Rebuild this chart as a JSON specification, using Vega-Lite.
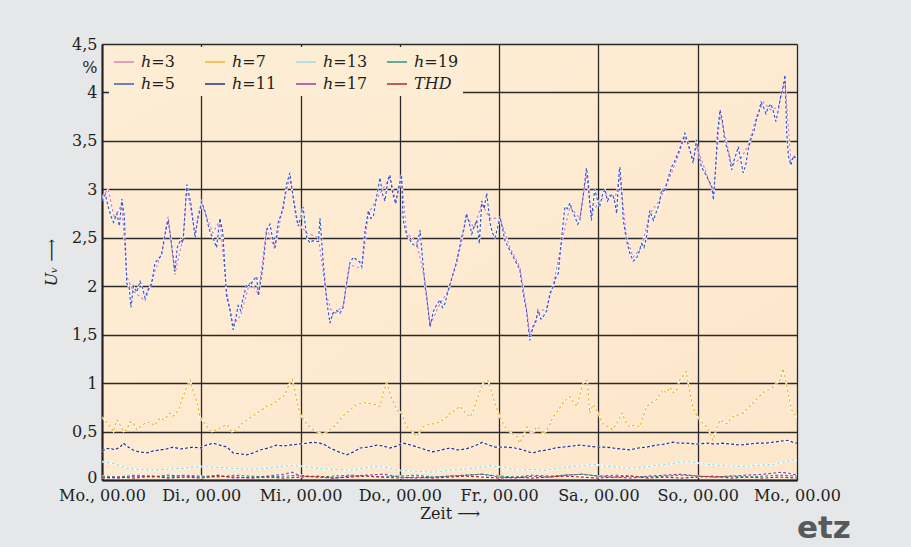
{
"$schema": "https://vega.github.io/schema/vega-lite/v6.json",
"autosize": {"type": "none"},
"padding": {"left": 102, "top": 44, "right": 114, "bottom": 67},
"width": 695,
"height": 436,
"background": "#e6e7e9",
"title": {"text": "etz", "orient": "bottom", "anchor": "end", "align": "left", "frame": "group", "font": "DejaVu Sans", "fontWeight": "bold", "fontSize": 31, "color": "#58595b", "offset": -7},
"config": {
  "view": {"fill": {"gradient": "linear", "x1": 0, "y1": 0, "x2": 1, "y2": 1, "stops": [{"offset": 0, "color": "#fdedd6"}, {"offset": 1, "color": "#fde7cb"}]}, "stroke": null},
  "axis": {"labelFont": "DejaVu Serif", "labelFontSize": 16, "labelColor": "#231f20", "titleFont": "DejaVu Serif", "titleFontSize": 16, "titleFontWeight": "normal", "titleColor": "#231f20", "ticks": false, "tickSize": 0, "gridColor": "#2a2a2a", "gridWidth": 1.3, "gridOpacity": 1, "domainColor": "#231f20", "domainWidth": 2}
},
"data": {"values": [
{"s":"ℎ=3","t":0,"v":2.92},{"s":"ℎ=3","t":1.5,"v":3.0},{"s":"ℎ=3","t":3,"v":2.7},{"s":"ℎ=3","t":4.8,"v":2.85},{"s":"ℎ=3","t":6,"v":2.1},{"s":"ℎ=3","t":7.5,"v":1.95},{"s":"ℎ=3","t":10.4,"v":1.85},{"s":"ℎ=3","t":12,"v":2.05},{"s":"ℎ=3","t":14.4,"v":2.35},{"s":"ℎ=3","t":16,"v":2.72},{"s":"ℎ=3","t":17.6,"v":2.12},{"s":"ℎ=3","t":19.6,"v":2.5},{"s":"ℎ=3","t":20.5,"v":3.02},{"s":"ℎ=3","t":22.5,"v":2.55},{"s":"ℎ=3","t":24.1,"v":2.85},{"s":"ℎ=3","t":26.8,"v":2.55},{"s":"ℎ=3","t":28.5,"v":2.68},{"s":"ℎ=3","t":30.1,"v":1.95},{"s":"ℎ=3","t":31.7,"v":1.6},{"s":"ℎ=3","t":33.5,"v":1.7},{"s":"ℎ=3","t":35.8,"v":2.05},{"s":"ℎ=3","t":37.8,"v":1.92},{"s":"ℎ=3","t":39.8,"v":2.6},{"s":"ℎ=3","t":41.8,"v":2.38},{"s":"ℎ=3","t":43.8,"v":2.85},{"s":"ℎ=3","t":45.4,"v":3.12},{"s":"ℎ=3","t":47.4,"v":2.65},{"s":"ℎ=3","t":49.5,"v":2.55},{"s":"ℎ=3","t":52.3,"v":2.5},{"s":"ℎ=3","t":54.3,"v":1.9},{"s":"ℎ=3","t":55.8,"v":1.7},{"s":"ℎ=3","t":58.3,"v":1.8},{"s":"ℎ=3","t":59.9,"v":2.22},{"s":"ℎ=3","t":62.8,"v":2.18},{"s":"ℎ=3","t":64.4,"v":2.75},{"s":"ℎ=3","t":66.4,"v":2.9},{"s":"ℎ=3","t":67.8,"v":3.0},{"s":"ℎ=3","t":69.6,"v":3.12},{"s":"ℎ=3","t":71,"v":2.88},{"s":"ℎ=3","t":72.4,"v":3.1},{"s":"ℎ=3","t":73.7,"v":2.55},{"s":"ℎ=3","t":76.1,"v":2.45},{"s":"ℎ=3","t":78.1,"v":2.05},{"s":"ℎ=3","t":79.3,"v":1.6},{"s":"ℎ=3","t":81.7,"v":1.82},{"s":"ℎ=3","t":83.7,"v":1.95},{"s":"ℎ=3","t":86.9,"v":2.45},{"s":"ℎ=3","t":88.1,"v":2.72},{"s":"ℎ=3","t":90,"v":2.6},{"s":"ℎ=3","t":91.8,"v":2.85},{"s":"ℎ=3","t":93.8,"v":2.7},{"s":"ℎ=3","t":96.2,"v":2.7},{"s":"ℎ=3","t":98.6,"v":2.4},{"s":"ℎ=3","t":101,"v":2.2},{"s":"ℎ=3","t":102.6,"v":1.78},{"s":"ℎ=3","t":103.4,"v":1.5},{"s":"ℎ=3","t":105.4,"v":1.72},{"s":"ℎ=3","t":107.5,"v":1.78},{"s":"ℎ=3","t":109.1,"v":2.02},{"s":"ℎ=3","t":111.1,"v":2.45},{"s":"ℎ=3","t":113.1,"v":2.82},{"s":"ℎ=3","t":115.5,"v":2.7},{"s":"ℎ=3","t":117.1,"v":3.15},{"s":"ℎ=3","t":118.3,"v":2.75},{"s":"ℎ=3","t":120.3,"v":2.88},{"s":"ℎ=3","t":122.2,"v":2.95},{"s":"ℎ=3","t":124,"v":2.9},{"s":"ℎ=3","t":125.2,"v":3.15},{"s":"ℎ=3","t":126.8,"v":2.5},{"s":"ℎ=3","t":128.4,"v":2.3},{"s":"ℎ=3","t":130.4,"v":2.4},{"s":"ℎ=3","t":132.4,"v":2.75},{"s":"ℎ=3","t":134.7,"v":2.88},{"s":"ℎ=3","t":136.5,"v":3.05},{"s":"ℎ=3","t":138.9,"v":3.3},{"s":"ℎ=3","t":140.9,"v":3.55},{"s":"ℎ=3","t":142.9,"v":3.3},{"s":"ℎ=3","t":143.7,"v":3.45},{"s":"ℎ=3","t":146.2,"v":3.15},{"s":"ℎ=3","t":147.8,"v":2.95},{"s":"ℎ=3","t":149.4,"v":3.78},{"s":"ℎ=3","t":151,"v":3.48},{"s":"ℎ=3","t":152.2,"v":3.25},{"s":"ℎ=3","t":154.4,"v":3.32},{"s":"ℎ=3","t":156.2,"v":3.45},{"s":"ℎ=3","t":158.2,"v":3.75},{"s":"ℎ=3","t":159.9,"v":3.9},{"s":"ℎ=3","t":161.7,"v":3.82},{"s":"ℎ=3","t":163.5,"v":3.85},{"s":"ℎ=3","t":165.1,"v":4.12},{"s":"ℎ=3","t":166.5,"v":3.3},{"s":"ℎ=3","t":168,"v":3.35},
{"s":"ℎ=5","t":0,"v":2.88},{"s":"ℎ=5","t":0.8,"v":2.95},{"s":"ℎ=5","t":1.5,"v":2.82},{"s":"ℎ=5","t":2.2,"v":2.72},{"s":"ℎ=5","t":2.8,"v":2.66},{"s":"ℎ=5","t":3.6,"v":2.75},{"s":"ℎ=5","t":4.2,"v":2.62},{"s":"ℎ=5","t":4.8,"v":2.9},{"s":"ℎ=5","t":5.4,"v":2.72},{"s":"ℎ=5","t":6,"v":2.03},{"s":"ℎ=5","t":6.6,"v":1.98},{"s":"ℎ=5","t":7,"v":1.78},{"s":"ℎ=5","t":7.6,"v":2.0},{"s":"ℎ=5","t":8.4,"v":1.94},{"s":"ℎ=5","t":9.2,"v":2.05},{"s":"ℎ=5","t":9.8,"v":1.98},{"s":"ℎ=5","t":10.4,"v":1.88},{"s":"ℎ=5","t":11.2,"v":1.97},{"s":"ℎ=5","t":12,"v":2.02},{"s":"ℎ=5","t":12.8,"v":2.24},{"s":"ℎ=5","t":13.6,"v":2.28},{"s":"ℎ=5","t":14.4,"v":2.32},{"s":"ℎ=5","t":15,"v":2.47},{"s":"ℎ=5","t":15.6,"v":2.62},{"s":"ℎ=5","t":16,"v":2.68},{"s":"ℎ=5","t":16.6,"v":2.5},{"s":"ℎ=5","t":17.2,"v":2.3},{"s":"ℎ=5","t":17.6,"v":2.15},{"s":"ℎ=5","t":18.2,"v":2.4},{"s":"ℎ=5","t":19,"v":2.48},{"s":"ℎ=5","t":19.6,"v":2.45},{"s":"ℎ=5","t":20.5,"v":3.05},{"s":"ℎ=5","t":21,"v":2.95},{"s":"ℎ=5","t":21.5,"v":2.85},{"s":"ℎ=5","t":22.5,"v":2.5},{"s":"ℎ=5","t":23.2,"v":2.72},{"s":"ℎ=5","t":24.1,"v":2.87},{"s":"ℎ=5","t":25,"v":2.76},{"s":"ℎ=5","t":25.6,"v":2.64},{"s":"ℎ=5","t":26.2,"v":2.55},{"s":"ℎ=5","t":26.8,"v":2.5},{"s":"ℎ=5","t":27.7,"v":2.4},{"s":"ℎ=5","t":28.5,"v":2.7},{"s":"ℎ=5","t":29.2,"v":2.56},{"s":"ℎ=5","t":30.1,"v":1.9},{"s":"ℎ=5","t":31,"v":1.74},{"s":"ℎ=5","t":31.7,"v":1.55},{"s":"ℎ=5","t":32.4,"v":1.68},{"s":"ℎ=5","t":32.9,"v":1.8},{"s":"ℎ=5","t":33.5,"v":1.75},{"s":"ℎ=5","t":34,"v":1.86},{"s":"ℎ=5","t":35,"v":2.02},{"s":"ℎ=5","t":35.8,"v":2.0},{"s":"ℎ=5","t":36.5,"v":2.06},{"s":"ℎ=5","t":37.4,"v":2.1},{"s":"ℎ=5","t":37.8,"v":1.9},{"s":"ℎ=5","t":38.9,"v":2.2},{"s":"ℎ=5","t":39.8,"v":2.58},{"s":"ℎ=5","t":40.6,"v":2.64},{"s":"ℎ=5","t":41.2,"v":2.5},{"s":"ℎ=5","t":41.8,"v":2.4},{"s":"ℎ=5","t":42.6,"v":2.66},{"s":"ℎ=5","t":43.8,"v":2.8},{"s":"ℎ=5","t":44.6,"v":3.05},{"s":"ℎ=5","t":45.4,"v":3.17},{"s":"ℎ=5","t":46.2,"v":2.92},{"s":"ℎ=5","t":46.8,"v":2.75},{"s":"ℎ=5","t":47.4,"v":2.62},{"s":"ℎ=5","t":48,"v":2.7},{"s":"ℎ=5","t":48.6,"v":2.82},{"s":"ℎ=5","t":49.5,"v":2.5},{"s":"ℎ=5","t":50.2,"v":2.45},{"s":"ℎ=5","t":51,"v":2.47},{"s":"ℎ=5","t":52.3,"v":2.46},{"s":"ℎ=5","t":52.7,"v":2.7},{"s":"ℎ=5","t":53.5,"v":2.24},{"s":"ℎ=5","t":54.3,"v":1.85},{"s":"ℎ=5","t":55.1,"v":1.62},{"s":"ℎ=5","t":55.8,"v":1.72},{"s":"ℎ=5","t":56.7,"v":1.75},{"s":"ℎ=5","t":57.5,"v":1.72},{"s":"ℎ=5","t":58.3,"v":1.78},{"s":"ℎ=5","t":59.1,"v":2.03},{"s":"ℎ=5","t":59.9,"v":2.24},{"s":"ℎ=5","t":60.8,"v":2.3},{"s":"ℎ=5","t":61.6,"v":2.27},{"s":"ℎ=5","t":62.3,"v":2.25},{"s":"ℎ=5","t":62.8,"v":2.2},{"s":"ℎ=5","t":63.6,"v":2.58},{"s":"ℎ=5","t":64.4,"v":2.78},{"s":"ℎ=5","t":65,"v":2.7},{"s":"ℎ=5","t":65.6,"v":2.72},{"s":"ℎ=5","t":66.4,"v":2.93},{"s":"ℎ=5","t":67.2,"v":3.12},{"s":"ℎ=5","t":67.8,"v":2.95},{"s":"ℎ=5","t":68.4,"v":2.88},{"s":"ℎ=5","t":69.1,"v":3.1},{"s":"ℎ=5","t":69.6,"v":3.15},{"s":"ℎ=5","t":70.3,"v":2.95},{"s":"ℎ=5","t":71,"v":2.85},{"s":"ℎ=5","t":71.6,"v":3.0},{"s":"ℎ=5","t":72.4,"v":3.15},{"s":"ℎ=5","t":72.8,"v":2.68},{"s":"ℎ=5","t":73.7,"v":2.52},{"s":"ℎ=5","t":74.4,"v":2.48},{"s":"ℎ=5","t":75.2,"v":2.43},{"s":"ℎ=5","t":76.1,"v":2.41},{"s":"ℎ=5","t":76.9,"v":2.58},{"s":"ℎ=5","t":77.3,"v":2.37},{"s":"ℎ=5","t":78.1,"v":2.0},{"s":"ℎ=5","t":78.5,"v":1.88},{"s":"ℎ=5","t":79.3,"v":1.58},{"s":"ℎ=5","t":80.1,"v":1.74},{"s":"ℎ=5","t":80.8,"v":1.8},{"s":"ℎ=5","t":81.7,"v":1.86},{"s":"ℎ=5","t":82.3,"v":1.78},{"s":"ℎ=5","t":82.9,"v":1.82},{"s":"ℎ=5","t":83.7,"v":1.96},{"s":"ℎ=5","t":84.9,"v":2.13},{"s":"ℎ=5","t":85.7,"v":2.24},{"s":"ℎ=5","t":86.9,"v":2.5},{"s":"ℎ=5","t":87.5,"v":2.6},{"s":"ℎ=5","t":88.1,"v":2.75},{"s":"ℎ=5","t":88.8,"v":2.65},{"s":"ℎ=5","t":89.4,"v":2.54},{"s":"ℎ=5","t":90,"v":2.62},{"s":"ℎ=5","t":90.6,"v":2.68},{"s":"ℎ=5","t":91.2,"v":2.44},{"s":"ℎ=5","t":91.8,"v":2.88},{"s":"ℎ=5","t":92.4,"v":2.8},{"s":"ℎ=5","t":93,"v":2.96},{"s":"ℎ=5","t":93.8,"v":2.65},{"s":"ℎ=5","t":94.4,"v":2.55},{"s":"ℎ=5","t":95,"v":2.5},{"s":"ℎ=5","t":95.6,"v":2.6},{"s":"ℎ=5","t":96.2,"v":2.72},{"s":"ℎ=5","t":96.8,"v":2.6},{"s":"ℎ=5","t":97.4,"v":2.47},{"s":"ℎ=5","t":98.6,"v":2.37},{"s":"ℎ=5","t":99.8,"v":2.27},{"s":"ℎ=5","t":101,"v":2.17},{"s":"ℎ=5","t":101.8,"v":1.93},{"s":"ℎ=5","t":102.6,"v":1.75},{"s":"ℎ=5","t":103.4,"v":1.44},{"s":"ℎ=5","t":104.2,"v":1.58},{"s":"ℎ=5","t":104.8,"v":1.62},{"s":"ℎ=5","t":105.4,"v":1.75},{"s":"ℎ=5","t":106.1,"v":1.66},{"s":"ℎ=5","t":106.7,"v":1.69},{"s":"ℎ=5","t":107.5,"v":1.75},{"s":"ℎ=5","t":108.3,"v":1.93},{"s":"ℎ=5","t":109.1,"v":2.0},{"s":"ℎ=5","t":109.8,"v":2.1},{"s":"ℎ=5","t":110.3,"v":2.13},{"s":"ℎ=5","t":111.1,"v":2.5},{"s":"ℎ=5","t":111.9,"v":2.82},{"s":"ℎ=5","t":112.5,"v":2.8},{"s":"ℎ=5","t":113.1,"v":2.86},{"s":"ℎ=5","t":113.7,"v":2.78},{"s":"ℎ=5","t":114.3,"v":2.72},{"s":"ℎ=5","t":115,"v":2.64},{"s":"ℎ=5","t":115.5,"v":2.68},{"s":"ℎ=5","t":116.3,"v":2.93},{"s":"ℎ=5","t":117.1,"v":3.22},{"s":"ℎ=5","t":117.5,"v":3.1},{"s":"ℎ=5","t":117.9,"v":2.86},{"s":"ℎ=5","t":118.3,"v":2.68},{"s":"ℎ=5","t":119.1,"v":3.0},{"s":"ℎ=5","t":119.7,"v":2.9},{"s":"ℎ=5","t":120.3,"v":2.82},{"s":"ℎ=5","t":121,"v":2.95},{"s":"ℎ=5","t":121.6,"v":3.0},{"s":"ℎ=5","t":122.2,"v":2.88},{"s":"ℎ=5","t":122.8,"v":2.93},{"s":"ℎ=5","t":123.4,"v":2.95},{"s":"ℎ=5","t":124,"v":2.86},{"s":"ℎ=5","t":124.4,"v":2.75},{"s":"ℎ=5","t":125,"v":3.18},{"s":"ℎ=5","t":125.2,"v":3.23},{"s":"ℎ=5","t":125.6,"v":3.0},{"s":"ℎ=5","t":126,"v":2.68},{"s":"ℎ=5","t":126.8,"v":2.47},{"s":"ℎ=5","t":127.6,"v":2.34},{"s":"ℎ=5","t":128.4,"v":2.26},{"s":"ℎ=5","t":129.2,"v":2.29},{"s":"ℎ=5","t":129.8,"v":2.35},{"s":"ℎ=5","t":130.4,"v":2.44},{"s":"ℎ=5","t":131,"v":2.4},{"s":"ℎ=5","t":131.6,"v":2.5},{"s":"ℎ=5","t":132.4,"v":2.78},{"s":"ℎ=5","t":133.3,"v":2.68},{"s":"ℎ=5","t":134.1,"v":2.78},{"s":"ℎ=5","t":134.7,"v":2.85},{"s":"ℎ=5","t":135.3,"v":3.0},{"s":"ℎ=5","t":135.9,"v":2.97},{"s":"ℎ=5","t":136.5,"v":3.06},{"s":"ℎ=5","t":137.1,"v":3.15},{"s":"ℎ=5","t":137.7,"v":3.23},{"s":"ℎ=5","t":138.3,"v":3.28},{"s":"ℎ=5","t":138.9,"v":3.34},{"s":"ℎ=5","t":139.5,"v":3.4},{"s":"ℎ=5","t":140.1,"v":3.47},{"s":"ℎ=5","t":140.9,"v":3.58},{"s":"ℎ=5","t":141.5,"v":3.5},{"s":"ℎ=5","t":142.1,"v":3.41},{"s":"ℎ=5","t":142.9,"v":3.27},{"s":"ℎ=5","t":143.7,"v":3.51},{"s":"ℎ=5","t":144.3,"v":3.35},{"s":"ℎ=5","t":144.9,"v":3.23},{"s":"ℎ=5","t":145.6,"v":3.18},{"s":"ℎ=5","t":146.2,"v":3.13},{"s":"ℎ=5","t":146.8,"v":3.08},{"s":"ℎ=5","t":147.4,"v":3.03},{"s":"ℎ=5","t":147.8,"v":2.89},{"s":"ℎ=5","t":148.3,"v":3.2},{"s":"ℎ=5","t":148.8,"v":3.6},{"s":"ℎ=5","t":149.4,"v":3.82},{"s":"ℎ=5","t":150,"v":3.7},{"s":"ℎ=5","t":150.5,"v":3.5},{"s":"ℎ=5","t":151,"v":3.44},{"s":"ℎ=5","t":151.6,"v":3.35},{"s":"ℎ=5","t":152.2,"v":3.2},{"s":"ℎ=5","t":152.8,"v":3.3},{"s":"ℎ=5","t":153.4,"v":3.38},{"s":"ℎ=5","t":153.8,"v":3.44},{"s":"ℎ=5","t":154.4,"v":3.3},{"s":"ℎ=5","t":155,"v":3.17},{"s":"ℎ=5","t":155.6,"v":3.25},{"s":"ℎ=5","t":156.2,"v":3.41},{"s":"ℎ=5","t":157,"v":3.54},{"s":"ℎ=5","t":157.6,"v":3.6},{"s":"ℎ=5","t":158.2,"v":3.72},{"s":"ℎ=5","t":158.8,"v":3.8},{"s":"ℎ=5","t":159.3,"v":3.9},{"s":"ℎ=5","t":159.9,"v":3.85},{"s":"ℎ=5","t":160.5,"v":3.78},{"s":"ℎ=5","t":161.1,"v":3.85},{"s":"ℎ=5","t":161.7,"v":3.88},{"s":"ℎ=5","t":162.3,"v":3.8},{"s":"ℎ=5","t":162.9,"v":3.7},{"s":"ℎ=5","t":163.5,"v":3.82},{"s":"ℎ=5","t":164,"v":3.95},{"s":"ℎ=5","t":164.6,"v":4.05},{"s":"ℎ=5","t":165.1,"v":4.18},{"s":"ℎ=5","t":165.5,"v":3.6},{"s":"ℎ=5","t":165.9,"v":3.35},{"s":"ℎ=5","t":166.5,"v":3.25},{"s":"ℎ=5","t":167.2,"v":3.35},{"s":"ℎ=5","t":168,"v":3.3},
{"s":"ℎ=7","t":0,"v":0.65},{"s":"ℎ=7","t":1,"v":0.6},{"s":"ℎ=7","t":2,"v":0.55},{"s":"ℎ=7","t":2.8,"v":0.5},{"s":"ℎ=7","t":3.6,"v":0.62},{"s":"ℎ=7","t":4.5,"v":0.56},{"s":"ℎ=7","t":5.2,"v":0.5},{"s":"ℎ=7","t":6,"v":0.52},{"s":"ℎ=7","t":6.8,"v":0.6},{"s":"ℎ=7","t":7.5,"v":0.59},{"s":"ℎ=7","t":8.4,"v":0.52},{"s":"ℎ=7","t":9.2,"v":0.55},{"s":"ℎ=7","t":10.2,"v":0.58},{"s":"ℎ=7","t":11.6,"v":0.6},{"s":"ℎ=7","t":12.6,"v":0.56},{"s":"ℎ=7","t":14,"v":0.64},{"s":"ℎ=7","t":15,"v":0.62},{"s":"ℎ=7","t":16.4,"v":0.69},{"s":"ℎ=7","t":17.2,"v":0.66},{"s":"ℎ=7","t":18.1,"v":0.7},{"s":"ℎ=7","t":18.8,"v":0.75},{"s":"ℎ=7","t":19.3,"v":0.83},{"s":"ℎ=7","t":20,"v":0.9},{"s":"ℎ=7","t":20.5,"v":0.96},{"s":"ℎ=7","t":21.3,"v":1.03},{"s":"ℎ=7","t":21.8,"v":0.95},{"s":"ℎ=7","t":22.5,"v":0.86},{"s":"ℎ=7","t":23.1,"v":0.78},{"s":"ℎ=7","t":23.7,"v":0.65},{"s":"ℎ=7","t":24.5,"v":0.6},{"s":"ℎ=7","t":25.4,"v":0.55},{"s":"ℎ=7","t":26.5,"v":0.5},{"s":"ℎ=7","t":27.8,"v":0.52},{"s":"ℎ=7","t":29,"v":0.55},{"s":"ℎ=7","t":30.2,"v":0.57},{"s":"ℎ=7","t":31.4,"v":0.5},{"s":"ℎ=7","t":32.6,"v":0.52},{"s":"ℎ=7","t":33.8,"v":0.58},{"s":"ℎ=7","t":35,"v":0.62},{"s":"ℎ=7","t":36.2,"v":0.65},{"s":"ℎ=7","t":37.4,"v":0.69},{"s":"ℎ=7","t":38.6,"v":0.72},{"s":"ℎ=7","t":39.8,"v":0.76},{"s":"ℎ=7","t":41,"v":0.78},{"s":"ℎ=7","t":42.2,"v":0.81},{"s":"ℎ=7","t":43,"v":0.84},{"s":"ℎ=7","t":43.8,"v":0.86},{"s":"ℎ=7","t":44.6,"v":0.92},{"s":"ℎ=7","t":45.4,"v":1.0},{"s":"ℎ=7","t":46,"v":1.04},{"s":"ℎ=7","t":46.6,"v":0.93},{"s":"ℎ=7","t":47.2,"v":0.8},{"s":"ℎ=7","t":47.8,"v":0.69},{"s":"ℎ=7","t":48.6,"v":0.63},{"s":"ℎ=7","t":49.5,"v":0.58},{"s":"ℎ=7","t":50.7,"v":0.53},{"s":"ℎ=7","t":51.9,"v":0.5},{"s":"ℎ=7","t":53.5,"v":0.47},{"s":"ℎ=7","t":55.1,"v":0.52},{"s":"ℎ=7","t":56.3,"v":0.56},{"s":"ℎ=7","t":57.5,"v":0.62},{"s":"ℎ=7","t":58.7,"v":0.68},{"s":"ℎ=7","t":59.9,"v":0.72},{"s":"ℎ=7","t":61.2,"v":0.77},{"s":"ℎ=7","t":62.4,"v":0.79},{"s":"ℎ=7","t":63.6,"v":0.8},{"s":"ℎ=7","t":64.8,"v":0.79},{"s":"ℎ=7","t":66,"v":0.78},{"s":"ℎ=7","t":67.2,"v":0.76},{"s":"ℎ=7","t":68,"v":0.9},{"s":"ℎ=7","t":68.8,"v":1.0},{"s":"ℎ=7","t":69.4,"v":0.93},{"s":"ℎ=7","t":70.1,"v":0.83},{"s":"ℎ=7","t":71.3,"v":0.72},{"s":"ℎ=7","t":72.5,"v":0.69},{"s":"ℎ=7","t":73.1,"v":0.6},{"s":"ℎ=7","t":73.7,"v":0.55},{"s":"ℎ=7","t":74.9,"v":0.5},{"s":"ℎ=7","t":76.1,"v":0.45},{"s":"ℎ=7","t":76.9,"v":0.5},{"s":"ℎ=7","t":77.6,"v":0.55},{"s":"ℎ=7","t":78.8,"v":0.57},{"s":"ℎ=7","t":80,"v":0.58},{"s":"ℎ=7","t":81.7,"v":0.6},{"s":"ℎ=7","t":83.4,"v":0.65},{"s":"ℎ=7","t":84.1,"v":0.69},{"s":"ℎ=7","t":85.3,"v":0.72},{"s":"ℎ=7","t":86.5,"v":0.76},{"s":"ℎ=7","t":87.7,"v":0.7},{"s":"ℎ=7","t":89,"v":0.65},{"s":"ℎ=7","t":89.8,"v":0.72},{"s":"ℎ=7","t":90.6,"v":0.83},{"s":"ℎ=7","t":91.4,"v":0.92},{"s":"ℎ=7","t":92.1,"v":1.0},{"s":"ℎ=7","t":93.3,"v":1.03},{"s":"ℎ=7","t":93.9,"v":0.95},{"s":"ℎ=7","t":94.5,"v":0.86},{"s":"ℎ=7","t":95.3,"v":0.75},{"s":"ℎ=7","t":96.2,"v":0.65},{"s":"ℎ=7","t":97,"v":0.58},{"s":"ℎ=7","t":97.9,"v":0.52},{"s":"ℎ=7","t":99.1,"v":0.48},{"s":"ℎ=7","t":100.3,"v":0.45},{"s":"ℎ=7","t":101,"v":0.38},{"s":"ℎ=7","t":101.8,"v":0.45},{"s":"ℎ=7","t":102.7,"v":0.55},{"s":"ℎ=7","t":103.4,"v":0.5},{"s":"ℎ=7","t":104.2,"v":0.48},{"s":"ℎ=7","t":105,"v":0.55},{"s":"ℎ=7","t":105.9,"v":0.53},{"s":"ℎ=7","t":106.8,"v":0.47},{"s":"ℎ=7","t":107.6,"v":0.52},{"s":"ℎ=7","t":108.3,"v":0.58},{"s":"ℎ=7","t":109,"v":0.65},{"s":"ℎ=7","t":110.2,"v":0.72},{"s":"ℎ=7","t":111.4,"v":0.79},{"s":"ℎ=7","t":112.2,"v":0.83},{"s":"ℎ=7","t":113.1,"v":0.86},{"s":"ℎ=7","t":114,"v":0.8},{"s":"ℎ=7","t":114.8,"v":0.76},{"s":"ℎ=7","t":115.5,"v":0.88},{"s":"ℎ=7","t":116.3,"v":1.0},{"s":"ℎ=7","t":117.3,"v":1.03},{"s":"ℎ=7","t":117.9,"v":0.69},{"s":"ℎ=7","t":118.7,"v":0.78},{"s":"ℎ=7","t":119.6,"v":0.72},{"s":"ℎ=7","t":120.4,"v":0.64},{"s":"ℎ=7","t":121.1,"v":0.58},{"s":"ℎ=7","t":122.3,"v":0.55},{"s":"ℎ=7","t":123.5,"v":0.52},{"s":"ℎ=7","t":124.6,"v":0.6},{"s":"ℎ=7","t":125.7,"v":0.69},{"s":"ℎ=7","t":126.6,"v":0.6},{"s":"ℎ=7","t":127.6,"v":0.55},{"s":"ℎ=7","t":128.8,"v":0.57},{"s":"ℎ=7","t":130,"v":0.55},{"s":"ℎ=7","t":130.8,"v":0.65},{"s":"ℎ=7","t":131.7,"v":0.76},{"s":"ℎ=7","t":132.9,"v":0.8},{"s":"ℎ=7","t":134.1,"v":0.83},{"s":"ℎ=7","t":135.6,"v":0.93},{"s":"ℎ=7","t":136.5,"v":0.9},{"s":"ℎ=7","t":137.3,"v":0.96},{"s":"ℎ=7","t":138.1,"v":0.9},{"s":"ℎ=7","t":138.9,"v":0.93},{"s":"ℎ=7","t":139.6,"v":1.03},{"s":"ℎ=7","t":140.5,"v":1.08},{"s":"ℎ=7","t":141.2,"v":1.12},{"s":"ℎ=7","t":141.9,"v":0.95},{"s":"ℎ=7","t":142.8,"v":0.76},{"s":"ℎ=7","t":143.6,"v":0.68},{"s":"ℎ=7","t":144.5,"v":0.62},{"s":"ℎ=7","t":145.3,"v":0.58},{"s":"ℎ=7","t":146.2,"v":0.55},{"s":"ℎ=7","t":147,"v":0.48},{"s":"ℎ=7","t":147.7,"v":0.41},{"s":"ℎ=7","t":148.5,"v":0.52},{"s":"ℎ=7","t":149.4,"v":0.62},{"s":"ℎ=7","t":150.2,"v":0.6},{"s":"ℎ=7","t":151.1,"v":0.58},{"s":"ℎ=7","t":151.8,"v":0.62},{"s":"ℎ=7","t":152.5,"v":0.65},{"s":"ℎ=7","t":153.7,"v":0.67},{"s":"ℎ=7","t":154.9,"v":0.69},{"s":"ℎ=7","t":156.1,"v":0.74},{"s":"ℎ=7","t":157.3,"v":0.79},{"s":"ℎ=7","t":158.5,"v":0.85},{"s":"ℎ=7","t":159.8,"v":0.9},{"s":"ℎ=7","t":161,"v":0.93},{"s":"ℎ=7","t":162.2,"v":0.96},{"s":"ℎ=7","t":163.1,"v":1.0},{"s":"ℎ=7","t":163.9,"v":1.03},{"s":"ℎ=7","t":164.6,"v":1.15},{"s":"ℎ=7","t":165.2,"v":1.05},{"s":"ℎ=7","t":165.8,"v":0.9},{"s":"ℎ=7","t":166.4,"v":0.78},{"s":"ℎ=7","t":167,"v":0.69},{"s":"ℎ=7","t":168,"v":0.65},
{"s":"ℎ=11","t":0,"v":0.3},{"s":"ℎ=11","t":1,"v":0.32},{"s":"ℎ=11","t":2,"v":0.33},{"s":"ℎ=11","t":3,"v":0.31},{"s":"ℎ=11","t":4.4,"v":0.34},{"s":"ℎ=11","t":5.2,"v":0.38},{"s":"ℎ=11","t":6,"v":0.35},{"s":"ℎ=11","t":7.5,"v":0.31},{"s":"ℎ=11","t":9,"v":0.29},{"s":"ℎ=11","t":10.9,"v":0.28},{"s":"ℎ=11","t":12.4,"v":0.3},{"s":"ℎ=11","t":14,"v":0.31},{"s":"ℎ=11","t":15.6,"v":0.32},{"s":"ℎ=11","t":17.2,"v":0.34},{"s":"ℎ=11","t":18.9,"v":0.32},{"s":"ℎ=11","t":20.5,"v":0.33},{"s":"ℎ=11","t":22,"v":0.34},{"s":"ℎ=11","t":23.7,"v":0.33},{"s":"ℎ=11","t":25.2,"v":0.36},{"s":"ℎ=11","t":26.8,"v":0.38},{"s":"ℎ=11","t":28.5,"v":0.36},{"s":"ℎ=11","t":30.2,"v":0.34},{"s":"ℎ=11","t":31.7,"v":0.28},{"s":"ℎ=11","t":33.3,"v":0.27},{"s":"ℎ=11","t":35,"v":0.26},{"s":"ℎ=11","t":36.6,"v":0.28},{"s":"ℎ=11","t":38.2,"v":0.31},{"s":"ℎ=11","t":40.2,"v":0.33},{"s":"ℎ=11","t":42.2,"v":0.36},{"s":"ℎ=11","t":43.8,"v":0.35},{"s":"ℎ=11","t":45.4,"v":0.36},{"s":"ℎ=11","t":47.4,"v":0.37},{"s":"ℎ=11","t":49.5,"v":0.38},{"s":"ℎ=11","t":51.1,"v":0.39},{"s":"ℎ=11","t":52.7,"v":0.38},{"s":"ℎ=11","t":54,"v":0.36},{"s":"ℎ=11","t":55.1,"v":0.33},{"s":"ℎ=11","t":57.2,"v":0.29},{"s":"ℎ=11","t":59.2,"v":0.26},{"s":"ℎ=11","t":60.8,"v":0.29},{"s":"ℎ=11","t":62.4,"v":0.33},{"s":"ℎ=11","t":64.4,"v":0.34},{"s":"ℎ=11","t":66.4,"v":0.36},{"s":"ℎ=11","t":68,"v":0.35},{"s":"ℎ=11","t":69.6,"v":0.33},{"s":"ℎ=11","t":71.2,"v":0.35},{"s":"ℎ=11","t":72.8,"v":0.38},{"s":"ℎ=11","t":74.8,"v":0.36},{"s":"ℎ=11","t":76.9,"v":0.33},{"s":"ℎ=11","t":78.4,"v":0.31},{"s":"ℎ=11","t":80,"v":0.29},{"s":"ℎ=11","t":82,"v":0.31},{"s":"ℎ=11","t":84.1,"v":0.33},{"s":"ℎ=11","t":86,"v":0.31},{"s":"ℎ=11","t":88,"v":0.32},{"s":"ℎ=11","t":90,"v":0.35},{"s":"ℎ=11","t":92,"v":0.39},{"s":"ℎ=11","t":93.5,"v":0.36},{"s":"ℎ=11","t":95,"v":0.34},{"s":"ℎ=11","t":97.9,"v":0.34},{"s":"ℎ=11","t":99.8,"v":0.33},{"s":"ℎ=11","t":101.8,"v":0.31},{"s":"ℎ=11","t":103,"v":0.29},{"s":"ℎ=11","t":104.2,"v":0.28},{"s":"ℎ=11","t":105.9,"v":0.3},{"s":"ℎ=11","t":107.6,"v":0.31},{"s":"ℎ=11","t":109.5,"v":0.33},{"s":"ℎ=11","t":111.4,"v":0.34},{"s":"ℎ=11","t":113.5,"v":0.35},{"s":"ℎ=11","t":115.5,"v":0.36},{"s":"ℎ=11","t":117.6,"v":0.35},{"s":"ℎ=11","t":119.6,"v":0.34},{"s":"ℎ=11","t":121.6,"v":0.34},{"s":"ℎ=11","t":123.5,"v":0.33},{"s":"ℎ=11","t":125.5,"v":0.32},{"s":"ℎ=11","t":127.6,"v":0.31},{"s":"ℎ=11","t":129.6,"v":0.33},{"s":"ℎ=11","t":131.7,"v":0.34},{"s":"ℎ=11","t":134,"v":0.36},{"s":"ℎ=11","t":136,"v":0.37},{"s":"ℎ=11","t":138,"v":0.39},{"s":"ℎ=11","t":139.6,"v":0.38},{"s":"ℎ=11","t":141.3,"v":0.38},{"s":"ℎ=11","t":143.7,"v":0.37},{"s":"ℎ=11","t":146.2,"v":0.38},{"s":"ℎ=11","t":148.2,"v":0.37},{"s":"ℎ=11","t":150.1,"v":0.38},{"s":"ℎ=11","t":152.2,"v":0.37},{"s":"ℎ=11","t":154.2,"v":0.36},{"s":"ℎ=11","t":156.3,"v":0.37},{"s":"ℎ=11","t":158.3,"v":0.38},{"s":"ℎ=11","t":160.3,"v":0.38},{"s":"ℎ=11","t":162.2,"v":0.39},{"s":"ℎ=11","t":164,"v":0.4},{"s":"ℎ=11","t":165.6,"v":0.41},{"s":"ℎ=11","t":167,"v":0.39},{"s":"ℎ=11","t":168,"v":0.38},
{"s":"ℎ=13","t":0,"v":0.19},{"s":"ℎ=13","t":3,"v":0.17},{"s":"ℎ=13","t":6,"v":0.12},{"s":"ℎ=13","t":9,"v":0.11},{"s":"ℎ=13","t":11.6,"v":0.1},{"s":"ℎ=13","t":15,"v":0.11},{"s":"ℎ=13","t":18.9,"v":0.12},{"s":"ℎ=13","t":21.5,"v":0.13},{"s":"ℎ=13","t":23.7,"v":0.14},{"s":"ℎ=13","t":27.7,"v":0.13},{"s":"ℎ=13","t":31.7,"v":0.12},{"s":"ℎ=13","t":35.8,"v":0.11},{"s":"ℎ=13","t":40,"v":0.12},{"s":"ℎ=13","t":43,"v":0.14},{"s":"ℎ=13","t":45.4,"v":0.15},{"s":"ℎ=13","t":48.5,"v":0.14},{"s":"ℎ=13","t":52,"v":0.12},{"s":"ℎ=13","t":56,"v":0.11},{"s":"ℎ=13","t":60,"v":0.1},{"s":"ℎ=13","t":63,"v":0.12},{"s":"ℎ=13","t":66.4,"v":0.14},{"s":"ℎ=13","t":69,"v":0.13},{"s":"ℎ=13","t":72,"v":0.1},{"s":"ℎ=13","t":76,"v":0.09},{"s":"ℎ=13","t":80,"v":0.08},{"s":"ℎ=13","t":84,"v":0.1},{"s":"ℎ=13","t":87,"v":0.11},{"s":"ℎ=13","t":89.7,"v":0.12},{"s":"ℎ=13","t":93.8,"v":0.15},{"s":"ℎ=13","t":97,"v":0.13},{"s":"ℎ=13","t":100.3,"v":0.1},{"s":"ℎ=13","t":104,"v":0.11},{"s":"ℎ=13","t":107,"v":0.1},{"s":"ℎ=13","t":110,"v":0.12},{"s":"ℎ=13","t":114,"v":0.14},{"s":"ℎ=13","t":118.7,"v":0.16},{"s":"ℎ=13","t":122.5,"v":0.14},{"s":"ℎ=13","t":126.9,"v":0.12},{"s":"ℎ=13","t":130.5,"v":0.13},{"s":"ℎ=13","t":134.1,"v":0.15},{"s":"ℎ=13","t":138,"v":0.17},{"s":"ℎ=13","t":141.3,"v":0.19},{"s":"ℎ=13","t":143.5,"v":0.18},{"s":"ℎ=13","t":146.2,"v":0.16},{"s":"ℎ=13","t":150,"v":0.15},{"s":"ℎ=13","t":154.2,"v":0.14},{"s":"ℎ=13","t":158,"v":0.15},{"s":"ℎ=13","t":162.2,"v":0.16},{"s":"ℎ=13","t":165,"v":0.19},{"s":"ℎ=13","t":167,"v":0.21},{"s":"ℎ=13","t":168,"v":0.2},
{"s":"ℎ=17","t":0,"v":0.03},{"s":"ℎ=17","t":4,"v":0.02},{"s":"ℎ=17","t":8,"v":0.04},{"s":"ℎ=17","t":12,"v":0.03},{"s":"ℎ=17","t":16,"v":0.05},{"s":"ℎ=17","t":20,"v":0.04},{"s":"ℎ=17","t":24,"v":0.03},{"s":"ℎ=17","t":28,"v":0.05},{"s":"ℎ=17","t":32,"v":0.02},{"s":"ℎ=17","t":36,"v":0.03},{"s":"ℎ=17","t":40,"v":0.04},{"s":"ℎ=17","t":44,"v":0.06},{"s":"ℎ=17","t":46,"v":0.08},{"s":"ℎ=17","t":48,"v":0.04},{"s":"ℎ=17","t":52,"v":0.03},{"s":"ℎ=17","t":56,"v":0.02},{"s":"ℎ=17","t":60,"v":0.04},{"s":"ℎ=17","t":64,"v":0.05},{"s":"ℎ=17","t":68,"v":0.06},{"s":"ℎ=17","t":72,"v":0.03},{"s":"ℎ=17","t":76,"v":0.02},{"s":"ℎ=17","t":80,"v":0.03},{"s":"ℎ=17","t":84,"v":0.04},{"s":"ℎ=17","t":88,"v":0.05},{"s":"ℎ=17","t":92,"v":0.06},{"s":"ℎ=17","t":96,"v":0.03},{"s":"ℎ=17","t":100,"v":0.02},{"s":"ℎ=17","t":104,"v":0.04},{"s":"ℎ=17","t":108,"v":0.03},{"s":"ℎ=17","t":112,"v":0.05},{"s":"ℎ=17","t":116,"v":0.06},{"s":"ℎ=17","t":120,"v":0.04},{"s":"ℎ=17","t":124,"v":0.03},{"s":"ℎ=17","t":128,"v":0.02},{"s":"ℎ=17","t":132,"v":0.04},{"s":"ℎ=17","t":136,"v":0.05},{"s":"ℎ=17","t":140,"v":0.06},{"s":"ℎ=17","t":144,"v":0.04},{"s":"ℎ=17","t":148,"v":0.03},{"s":"ℎ=17","t":152,"v":0.04},{"s":"ℎ=17","t":156,"v":0.05},{"s":"ℎ=17","t":160,"v":0.06},{"s":"ℎ=17","t":164,"v":0.08},{"s":"ℎ=17","t":166,"v":0.07},{"s":"ℎ=17","t":168,"v":0.05},
{"s":"ℎ=19","t":0,"v":0.04},{"s":"ℎ=19","t":4,"v":0.03},{"s":"ℎ=19","t":8,"v":0.05},{"s":"ℎ=19","t":12,"v":0.04},{"s":"ℎ=19","t":16,"v":0.03},{"s":"ℎ=19","t":20,"v":0.05},{"s":"ℎ=19","t":24,"v":0.04},{"s":"ℎ=19","t":28,"v":0.03},{"s":"ℎ=19","t":32,"v":0.05},{"s":"ℎ=19","t":36,"v":0.04},{"s":"ℎ=19","t":40,"v":0.03},{"s":"ℎ=19","t":44,"v":0.04},{"s":"ℎ=19","t":48,"v":0.05},{"s":"ℎ=19","t":52,"v":0.03},{"s":"ℎ=19","t":56,"v":0.04},{"s":"ℎ=19","t":60,"v":0.05},{"s":"ℎ=19","t":64,"v":0.04},{"s":"ℎ=19","t":68,"v":0.03},{"s":"ℎ=19","t":72,"v":0.04},{"s":"ℎ=19","t":76,"v":0.05},{"s":"ℎ=19","t":80,"v":0.03},{"s":"ℎ=19","t":84,"v":0.04},{"s":"ℎ=19","t":88,"v":0.05},{"s":"ℎ=19","t":92,"v":0.06},{"s":"ℎ=19","t":96,"v":0.04},{"s":"ℎ=19","t":100,"v":0.03},{"s":"ℎ=19","t":104,"v":0.05},{"s":"ℎ=19","t":108,"v":0.04},{"s":"ℎ=19","t":112,"v":0.05},{"s":"ℎ=19","t":116,"v":0.06},{"s":"ℎ=19","t":120,"v":0.04},{"s":"ℎ=19","t":124,"v":0.05},{"s":"ℎ=19","t":128,"v":0.04},{"s":"ℎ=19","t":132,"v":0.03},{"s":"ℎ=19","t":136,"v":0.04},{"s":"ℎ=19","t":140,"v":0.05},{"s":"ℎ=19","t":144,"v":0.04},{"s":"ℎ=19","t":148,"v":0.03},{"s":"ℎ=19","t":152,"v":0.04},{"s":"ℎ=19","t":156,"v":0.03},{"s":"ℎ=19","t":160,"v":0.04},{"s":"ℎ=19","t":164,"v":0.05},{"s":"ℎ=19","t":168,"v":0.04},
{"s":"THD","t":0,"v":0.02},{"s":"THD","t":4,"v":0.03},{"s":"THD","t":8,"v":0.02},{"s":"THD","t":12,"v":0.04},{"s":"THD","t":16,"v":0.02},{"s":"THD","t":20,"v":0.03},{"s":"THD","t":24,"v":0.02},{"s":"THD","t":28,"v":0.04},{"s":"THD","t":32,"v":0.03},{"s":"THD","t":36,"v":0.02},{"s":"THD","t":40,"v":0.03},{"s":"THD","t":44,"v":0.02},{"s":"THD","t":48,"v":0.03},{"s":"THD","t":52,"v":0.04},{"s":"THD","t":56,"v":0.02},{"s":"THD","t":60,"v":0.03},{"s":"THD","t":64,"v":0.04},{"s":"THD","t":68,"v":0.03},{"s":"THD","t":72,"v":0.02},{"s":"THD","t":76,"v":0.03},{"s":"THD","t":80,"v":0.02},{"s":"THD","t":84,"v":0.03},{"s":"THD","t":88,"v":0.04},{"s":"THD","t":92,"v":0.03},{"s":"THD","t":96,"v":0.02},{"s":"THD","t":100,"v":0.03},{"s":"THD","t":104,"v":0.02},{"s":"THD","t":108,"v":0.03},{"s":"THD","t":112,"v":0.04},{"s":"THD","t":116,"v":0.03},{"s":"THD","t":120,"v":0.02},{"s":"THD","t":124,"v":0.03},{"s":"THD","t":128,"v":0.04},{"s":"THD","t":132,"v":0.02},{"s":"THD","t":136,"v":0.03},{"s":"THD","t":140,"v":0.02},{"s":"THD","t":144,"v":0.03},{"s":"THD","t":148,"v":0.04},{"s":"THD","t":152,"v":0.02},{"s":"THD","t":156,"v":0.03},{"s":"THD","t":160,"v":0.02},{"s":"THD","t":164,"v":0.03},{"s":"THD","t":168,"v":0.02}
]},
"encoding": {
  "x": {"field": "t", "type": "quantitative", "scale": {"domain": [0, 168], "nice": false, "zero": false},
    "axis": {"values": [0, 24, 48, 72, 96, 120, 144, 168], "labelExpr": "['Mo., 00.00','Di., 00.00','Mi., 00.00','Do., 00.00','Fr., 00.00','Sa., 00.00','So., 00.00','Mo., 00.00'][round(datum.value/24)]", "labelFlush": false, "labelOverlap": false, "labelPadding": 7, "title": "Zeit ⟶", "titlePadding": 2}},
  "y": {"field": "v", "type": "quantitative", "scale": {"domain": [0, 4.5], "nice": false},
    "axis": {"values": [0, 0.5, 1, 1.5, 2, 2.5, 3, 3.5, 4, 4.5], "format": "~g", "labelExpr": "datum.value == 4.5 ? ['4,5', '%'] : replace(datum.label, '.', ',')", "labelLineHeight": 23, "labelBaseline": {"condition": {"test": "datum.value == 4.5", "value": "top"}, "value": "middle"}, "labelOffset": {"condition": [{"test": "datum.value == 4.5", "value": -8}, {"test": "datum.value == 0", "value": -3}], "value": 0}, "labelPadding": 5, "title": "Uᵥ ⟶", "titleFontStyle": "italic", "titlePadding": 12}}
},
"layer": [
  {"mark": {"type": "line", "color": "#ffffff", "strokeWidth": 1.8, "opacity": 0.95, "clip": true}, "encoding": {"detail": {"field": "s"}}},
  {"mark": {"type": "line", "strokeWidth": 1.2, "strokeDash": [3, 2], "clip": true},
   "encoding": {"color": {"field": "s", "type": "nominal",
     "scale": {"domain": ["ℎ=3", "ℎ=7", "ℎ=13", "ℎ=19", "ℎ=5", "ℎ=11", "ℎ=17", "THD"], "range": ["#e07fb2", "#f5b335", "#9edde2", "#2e9483", "#3a5bbf", "#2b2b85", "#9b3d9b", "#b3261e"]},
     "legend": {"orient": "none", "legendX": 7, "legendY": 3, "direction": "horizontal", "columns": 4, "gridAlign": "all", "title": null, "symbolType": "stroke", "symbolSize": 400, "symbolStrokeWidth": 1.5, "symbolDash": [], "labelFont": "DejaVu Serif", "labelFontSize": 16, "labelColor": "#231f20", "labelOffset": 6, "labelFontStyle": {"expr": "datum.label == 'THD' ? 'italic' : 'normal'"}, "columnPadding": 16, "rowPadding": 3, "fillColor": "#fdedd5", "padding": 4}}}}
]
}
